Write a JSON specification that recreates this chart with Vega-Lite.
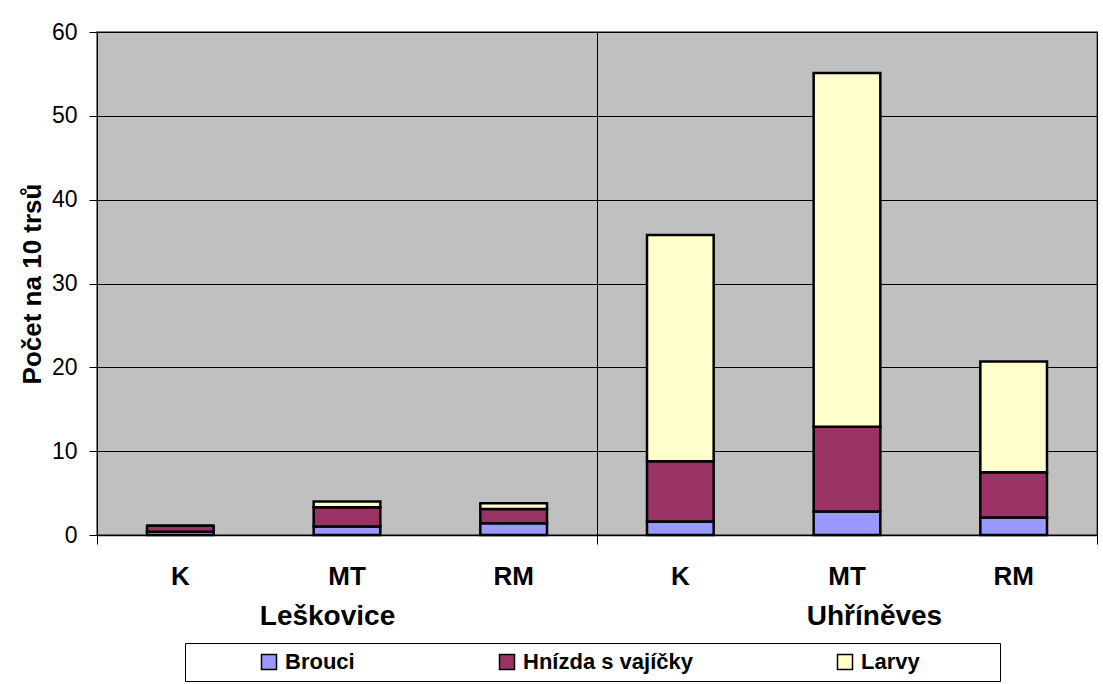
{
  "$schema": "https://vega.github.io/schema/vega-lite/v6.json",
  "width": 1000,
  "height": 503,
  "autosize": {"type": "none"},
  "padding": {"left": 97, "top": 32, "right": 6, "bottom": 149},
  "background": "white",
  "config": {
    "view": {"fill": "#C0C0C0", "stroke": "#808080", "strokeWidth": 2},
    "font": "Liberation Sans"
  },
  "data": {
    "values": [
      {"lokalita": "Leškovice", "varianta": "K", "druh": "Brouci", "pocet": 0.4},
      {"lokalita": "Leškovice", "varianta": "K", "druh": "Hnízda s vajíčky", "pocet": 0.7},
      {"lokalita": "Leškovice", "varianta": "K", "druh": "Larvy", "pocet": 0.0},
      {"lokalita": "Leškovice", "varianta": "MT", "druh": "Brouci", "pocet": 1.0},
      {"lokalita": "Leškovice", "varianta": "MT", "druh": "Hnízda s vajíčky", "pocet": 2.3},
      {"lokalita": "Leškovice", "varianta": "MT", "druh": "Larvy", "pocet": 0.7},
      {"lokalita": "Leškovice", "varianta": "RM", "druh": "Brouci", "pocet": 1.4},
      {"lokalita": "Leškovice", "varianta": "RM", "druh": "Hnízda s vajíčky", "pocet": 1.7},
      {"lokalita": "Leškovice", "varianta": "RM", "druh": "Larvy", "pocet": 0.7},
      {"lokalita": "Uhříněves", "varianta": "K", "druh": "Brouci", "pocet": 1.6},
      {"lokalita": "Uhříněves", "varianta": "K", "druh": "Hnízda s vajíčky", "pocet": 7.2},
      {"lokalita": "Uhříněves", "varianta": "K", "druh": "Larvy", "pocet": 27.0},
      {"lokalita": "Uhříněves", "varianta": "MT", "druh": "Brouci", "pocet": 2.8},
      {"lokalita": "Uhříněves", "varianta": "MT", "druh": "Hnízda s vajíčky", "pocet": 10.1},
      {"lokalita": "Uhříněves", "varianta": "MT", "druh": "Larvy", "pocet": 42.2},
      {"lokalita": "Uhříněves", "varianta": "RM", "druh": "Brouci", "pocet": 2.1},
      {"lokalita": "Uhříněves", "varianta": "RM", "druh": "Hnízda s vajíčky", "pocet": 5.4},
      {"lokalita": "Uhříněves", "varianta": "RM", "druh": "Larvy", "pocet": 13.2}
    ]
  },
  "layer": [
    {
      "mark": {"type": "bar", "stroke": "black", "strokeWidth": 2.5},
      "encoding": {
        "x": {
          "field": "lokalita", "type": "nominal", "sort": ["Leškovice", "Uhříněves"],
          "scale": {"paddingInner": 0, "paddingOuter": 0},
          "axis": {
            "title": null, "labelAngle": 0, "labelFontSize": 28, "labelFontWeight": "bold",
            "labelColor": "black", "labelPadding": 58, "tickBand": "extent", "ticks": true,
            "labelOffset": {"condition": {"test": "datum.value == 'Leškovice'", "value": -20}, "value": 27},
            "tickSize": 9, "tickColor": "black", "domainColor": "black", "domainWidth": 1.5,
            "grid": true, "gridColor": "black", "gridWidth": 1, "gridOpacity": 1
          }
        },
        "xOffset": {
          "field": "varianta", "type": "nominal", "sort": ["K", "MT", "RM"],
          "scale": {"paddingInner": 0.6, "paddingOuter": 0.3}
        },
        "y": {
          "field": "pocet", "type": "quantitative", "stack": "zero",
          "scale": {"domain": [0, 60], "nice": false},
          "axis": {
            "title": "Počet na 10 trsů", "titleFontSize": 26, "titleFontWeight": "bold",
            "titleColor": "black", "titlePadding": 6, "values": [0, 10, 20, 30, 40, 50, 60],
            "labelFontSize": 23, "labelColor": "black", "labelPadding": 12,
            "tickSize": 8, "tickColor": "black", "domain": false,
            "grid": true, "gridColor": "black", "gridWidth": 1, "gridOpacity": 1
          }
        },
        "order": {"field": "druh", "sort": "ascending"},
        "color": {
          "field": "druh", "type": "nominal",
          "scale": {"domain": ["Brouci", "Hnízda s vajíčky", "Larvy"], "range": ["#9999FF", "#993366", "#FFFFCC"]},
          "legend": {
            "title": " ", "titleOrient": "right", "titlePadding": 72, "titleFontSize": 10,
            "orient": "none", "legendX": 88, "legendY": 611,
            "direction": "horizontal", "columnPadding": 76,
            "symbolOffset": 65, "symbolType": "square", "symbolSize": 225,
            "symbolStrokeColor": "black", "symbolStrokeWidth": 1.5, "symbolOpacity": 1,
            "labelFontSize": 22, "labelFontWeight": "bold", "labelColor": "black", "labelLimit": 400,
            "labelOffset": 5, "padding": 8, "strokeColor": "black", "fillColor": "white"
          }
        }
      }
    },
    {
      "transform": [{"filter": "datum.druh == 'Brouci'"}],
      "mark": {"type": "text", "fontSize": 26, "fontWeight": "bold", "dy": 42, "baseline": "middle", "color": "black"},
      "encoding": {
        "x": {"field": "lokalita", "type": "nominal", "sort": ["Leškovice", "Uhříněves"]},
        "xOffset": {"field": "varianta", "type": "nominal", "sort": ["K", "MT", "RM"]},
        "y": {"datum": 0},
        "text": {"field": "varianta"}
      }
    }
  ]
}
